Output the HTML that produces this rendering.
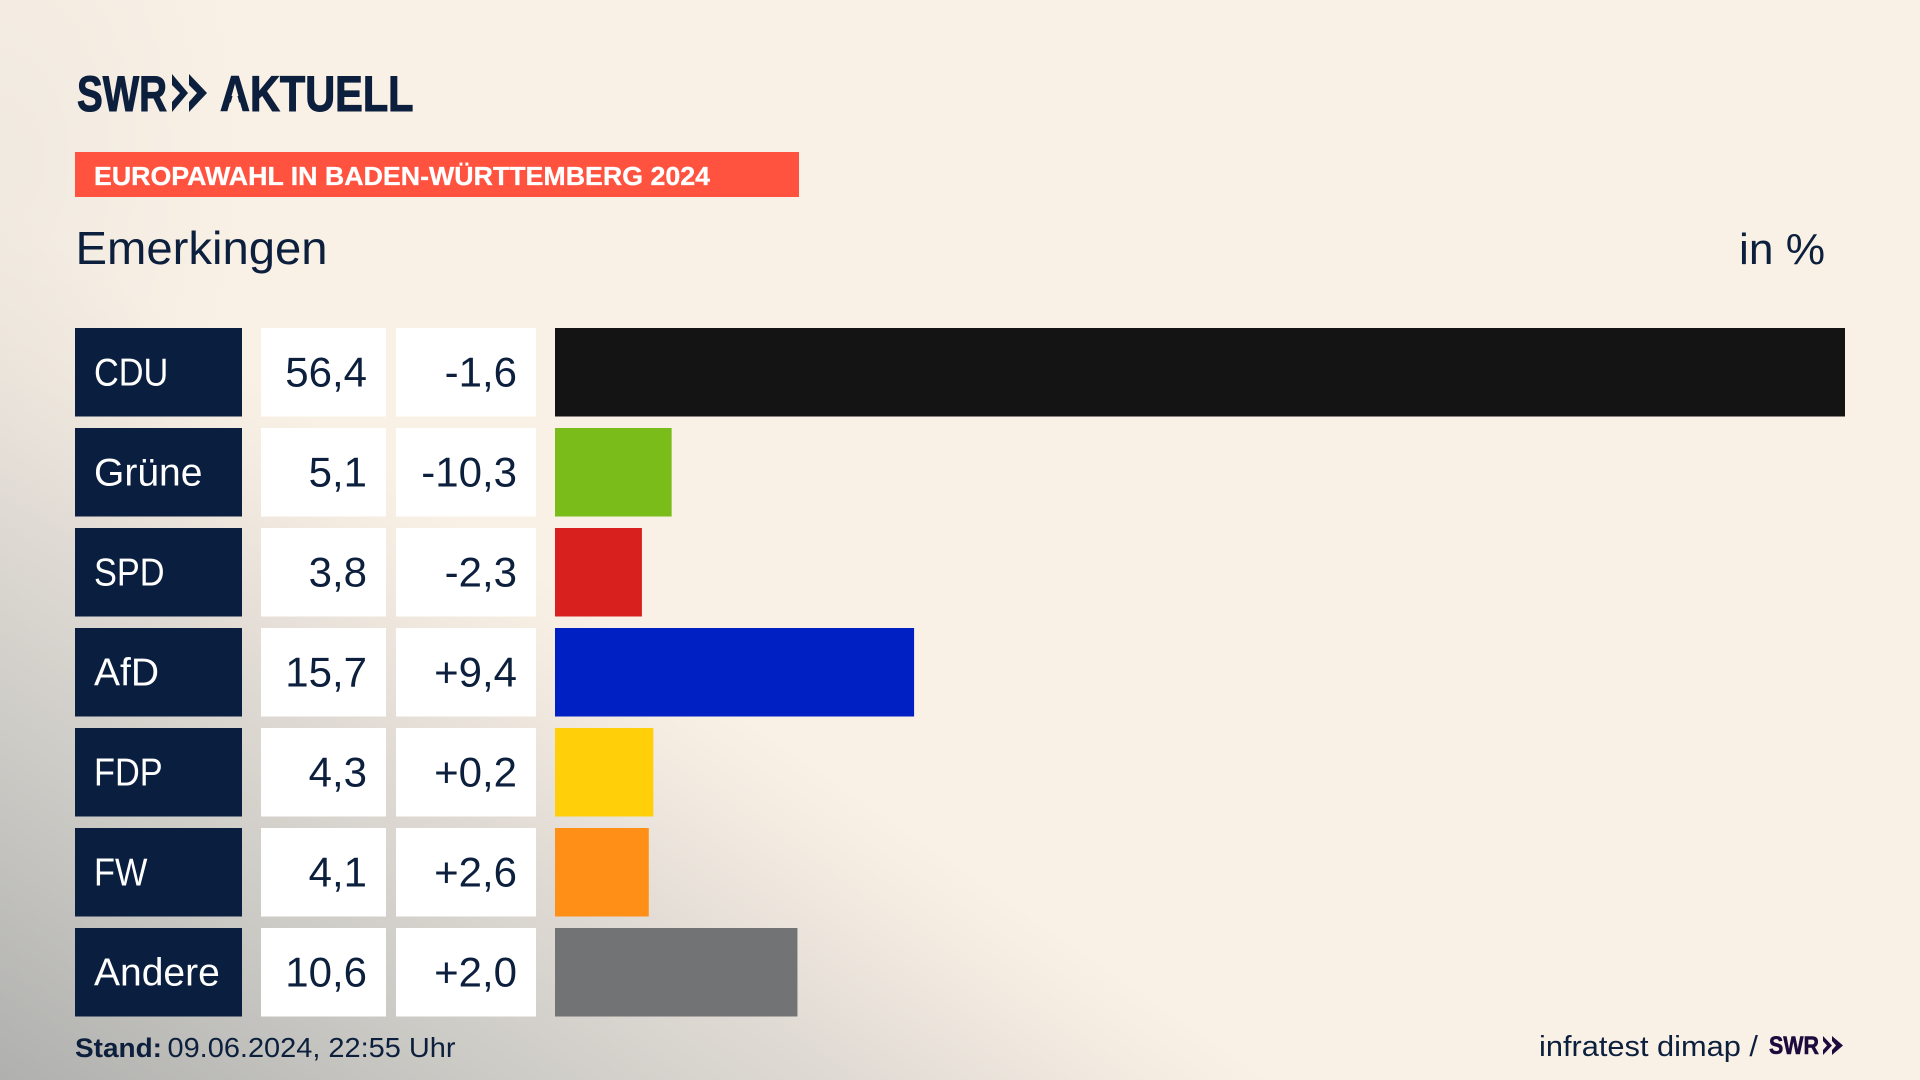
<!DOCTYPE html>
<html lang="de">
<head>
<meta charset="utf-8">
<title>Europawahl in Baden-Württemberg 2024 – Emerkingen</title>
<style>
html,body{margin:0;padding:0;width:1920px;height:1080px;overflow:hidden}
#stage{position:relative;width:1920px;height:1080px;background-color:#faf1e6;
background-image:
 radial-gradient(ellipse 260px 420px at 0px 160px,rgba(228,224,216,.45) 0%,rgba(250,241,230,0) 100%),
 linear-gradient(214.5deg,#faf1e6 1252px,#f1e9df 1354px,#e0dad4 1497px,#cccbc6 1693px,#b0b0ae 1976px);}
svg{position:absolute;left:0;top:0}
text{font-family:"Liberation Sans",sans-serif;fill:#0c1f3d}
.bold{font-weight:700}
.logo-text{stroke:#0c1f3d;stroke-width:1.1px}
.banner-text{fill:#fff;font-weight:700;font-size:25.5px;stroke:#fff;stroke-width:.3px}
.label{fill:#fff;font-size:39px}
.num{font-size:42px;text-anchor:end}
.cell-name{fill:#0a1f3f}
.cell-value{fill:#fff}
.bar-CDU{fill:#141414}
.bar-Grüne{fill:#7abd1a}
.bar-SPD{fill:#d8201e}
.bar-AfD{fill:#0020c4}
.bar-FDP{fill:#ffcf0a}
.bar-FW{fill:#ff8f17}
.bar-Andere{fill:#727374}
</style>
</head>
<body>
<div id="stage">
<svg id="chart" width="1920" height="1080" viewBox="0 0 1920 1080" xmlns="http://www.w3.org/2000/svg">
  <g>
    <text class="bold logo-text" x="77" y="111" font-size="50" textLength="90" lengthAdjust="spacingAndGlyphs">SWR</text>
    <path d="M172 74L188 93L172 112L172 102L180 93L172 85ZM189 74L207 93L189 112L189 102L197 93L189 85Z" fill="#0c1f3d"/>
    <text class="bold logo-text" x="220" y="111" font-size="50" textLength="193.5" lengthAdjust="spacingAndGlyphs">AKTUELL</text>
    <path d="M235 87L228 112.500L242 112.500Z" fill="#f9f0e6"/>
  </g>
  <rect x="75" y="152" width="724" height="45" fill="#ff5340"/>
  <text class="banner-text" x="94" y="185" textLength="616" lengthAdjust="spacingAndGlyphs">EUROPAWAHL IN BADEN-WÜRTTEMBERG 2024</text>
  <text x="75.500" y="264" font-size="46" textLength="252" lengthAdjust="spacingAndGlyphs">Emerkingen</text>
  <text x="1739" y="264" font-size="44" textLength="86" lengthAdjust="spacingAndGlyphs">in %</text>
  <g id="rows"></g>
  <text class="bold" x="75" y="1057" font-size="27" textLength="87" lengthAdjust="spacingAndGlyphs">Stand:</text>
  <text x="167.500" y="1057" font-size="28" textLength="288" lengthAdjust="spacingAndGlyphs">09.06.2024, 22:55 Uhr</text>
  <text x="1539" y="1056" font-size="29" textLength="219" lengthAdjust="spacingAndGlyphs">infratest dimap /</text>
  <g>
    <text class="bold" x="1769" y="1054" font-size="25" textLength="50" lengthAdjust="spacingAndGlyphs" style="fill:#1e0a3c;stroke:#1e0a3c;stroke-width:.6px">SWR</text>
    <path d="M1823 1036L1832 1045.500L1823 1055L1823 1050L1827 1045.500L1823 1041ZM1832 1036L1843 1045.500L1832 1055L1832 1050L1836 1045.500L1832 1041Z" fill="#1e0a3c"/>
  </g>
</svg>
</div>
<script>
const categories = ["CDU", "Grüne", "SPD", "AfD", "FDP", "FW", "Andere"];
const shares = [56.4, 5.1, 3.8, 15.7, 4.3, 4.1, 10.6];
const changes = [-1.6, -10.3, -2.3, 9.4, 0.2, 2.6, 2.0];

const NS = 'http://www.w3.org/2000/svg';
const rowsGroup = document.getElementById('rows');

const barLeft = 555;
const pxPerPoint = 1290 / 56.4;
const rowTop = 328;
const rowPitch = 100;
const rowHeight = 88.5;

function xScale(value) { return barLeft + value * pxPerPoint; }
function yBand(index) { return rowTop + index * rowPitch; }
function formatShare(value) { return value.toFixed(1).replace('.', ','); }
function formatChange(value) { return (value > 0 ? '+' : '-') + Math.abs(value).toFixed(1).replace('.', ','); }
function slugOf(name) { return name.toLowerCase().replace('ü', 'ue'); }

function makeRect(x, y, width, height, className) {
  const el = document.createElementNS(NS, 'rect');
  el.setAttribute('x', x);
  el.setAttribute('y', y);
  el.setAttribute('width', width);
  el.setAttribute('height', height);
  el.setAttribute('class', className);
  rowsGroup.appendChild(el);
  return el;
}

function makeText(content, x, y, className) {
  const el = document.createElementNS(NS, 'text');
  el.textContent = content;
  el.setAttribute('x', x);
  el.setAttribute('y', y);
  el.setAttribute('class', className);
  rowsGroup.appendChild(el);
  return el;
}

categories.forEach(function (name, i) {
  const top = yBand(i);
  const slug = slugOf(name);

  const nameCell = makeRect(75, top, 167, rowHeight, 'cell-name');
  
  

  const label = makeText(name, 0, 0, 'label');
  const isCaps = name === name.toUpperCase();
  label.setAttribute('transform', 'translate(94 ' + (top + 57.5) + ') scale(' + (isCaps ? 0.88 : 1) + ' 1)');
  
  

  const shareCell = makeRect(261, top, 125, rowHeight, 'cell-value');
  
  

  const shareText = makeText(formatShare(shares[i]), 367, top + 58.5, 'num');
  
  

  const changeCell = makeRect(396, top, 140, rowHeight, 'cell-value');
  
  

  const changeText = makeText(formatChange(changes[i]), 517, top + 58.5, 'num');
  
  

  const bar = makeRect(xScale(0), top, xScale(shares[i]) - xScale(0), rowHeight, 'bar-' + name);
  
  
});
</script>
</body>
</html>
